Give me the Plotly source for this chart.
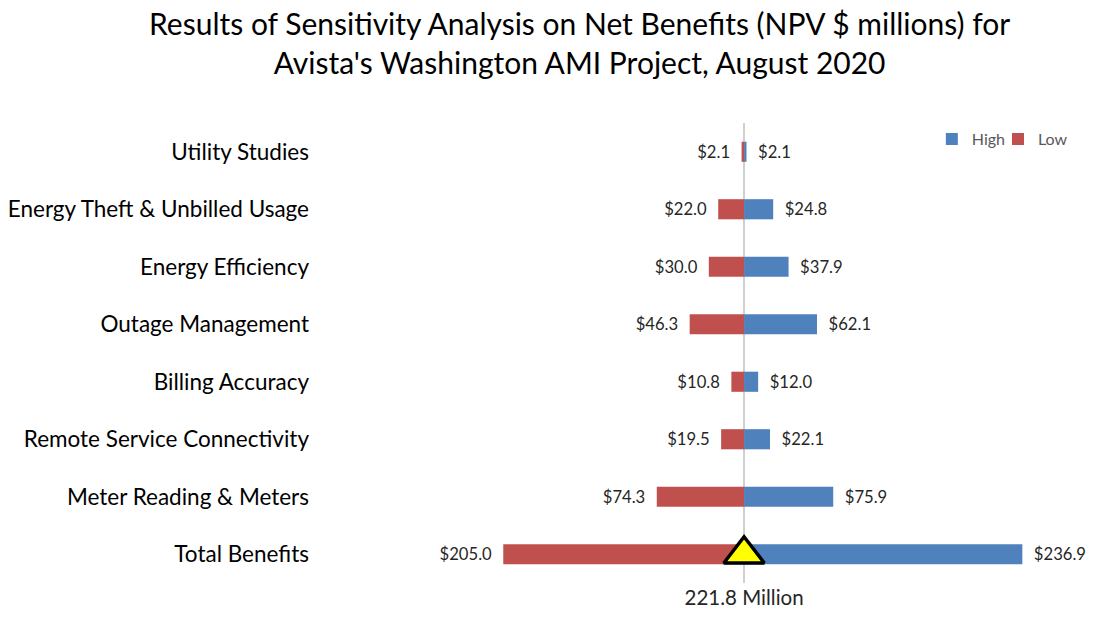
import plotly.graph_objects as go

categories = ["Utility Studies", "Energy Theft & Unbilled Usage", "Energy Efficiency",
              "Outage Management", "Billing Accuracy", "Remote Service Connectivity",
              "Meter Reading & Meters", "Total Benefits"]
high_values = [2.1, 24.8, 37.9, 62.1, 12.0, 22.1, 75.9, 236.9]
low_values = [2.1, 22.0, 30.0, 46.3, 10.8, 19.5, 74.3, 205.0]
base_label = "221.8 Million"
marker_category = "Total Benefits"
title_text = ("Results of Sensitivity Analysis on Net Benefits (NPV $ millions) for<br>"
              "Avista's Washington AMI Project, August 2020")

BLUE = "#4F81BD"
RED = "#C0504D"
FONT = "Lato"
NB = "\u00a0"

fig = go.Figure()
fig.add_trace(go.Bar(
    name="High", y=categories, x=high_values, orientation="h",
    marker=dict(color=BLUE, line=dict(width=0)), width=0.35,
    text=[NB * 2 + f"${v:.1f}" for v in high_values], textposition="outside",
    textfont=dict(family=FONT, size=21.5, color="#262626"), cliponaxis=False,
    legend="legend",
))
fig.add_trace(go.Bar(
    name="Low", y=categories, x=[-v for v in low_values], orientation="h",
    marker=dict(color=RED, line=dict(width=0)), width=0.35,
    text=[f"${v:.1f}" + NB * 2 for v in low_values], textposition="outside",
    textfont=dict(family=FONT, size=21.5, color="#262626"), cliponaxis=False,
    legend="legend2",
))
fig.add_trace(go.Scatter(
    x=[0], y=[marker_category], mode="markers", showlegend=False,
    marker=dict(symbol="triangle-up", size=35, color="#FFFF00",
                line=dict(color="black", width=3.5)),
    cliponaxis=False,
))

fig.add_annotation(
    text=title_text, xref="paper", yref="paper", x=0.3364, y=1.176,
    xanchor="center", yanchor="middle", showarrow=False, align="center",
    font=dict(family=FONT, size=30, color="#000000"),
)

legend_style = dict(
    orientation="h", y=0.965, yanchor="middle",
    font=dict(family=FONT, size=16, color="#595959"),
    bgcolor="rgba(0,0,0,0)", itemwidth=30,
)

fig.update_layout(
    width=1091, height=610,
    paper_bgcolor="white", plot_bgcolor="white",
    barmode="overlay",
    margin=dict(l=312, r=9, t=115, b=35, autoexpand=False),
    legend=dict(x=0.7946, xanchor="left", **legend_style),
    legend2=dict(x=0.8805, xanchor="left", **legend_style),
    font=dict(family=FONT),
)
fig.update_xaxes(
    range=[-361, 294.5], showgrid=False, zeroline=True, zerolinecolor="#D0D0D0",
    zerolinewidth=2, tickvals=[0], ticktext=[base_label], ticks="",
    tickfont=dict(family=FONT, size=20.5, color="#262626"), showline=False,
)
fig.update_yaxes(
    categoryorder="array", categoryarray=categories, range=[7.5, -0.5],
    showgrid=False, zeroline=False, showline=False, ticks="",
    tickfont=dict(family=FONT, size=22.5, color="#000000"), ticklabelstandoff=10,
)

fig.write_html("out.html")
